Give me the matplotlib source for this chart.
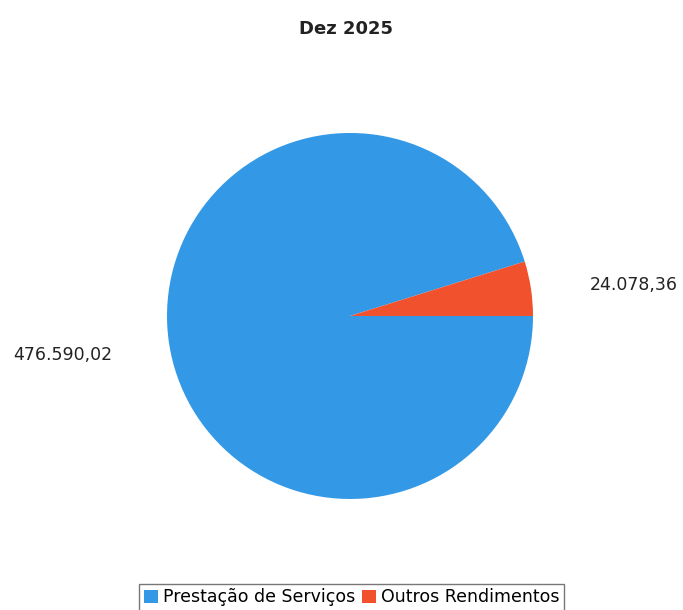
import matplotlib.pyplot as plt

categories = ['Prestação de Serviços', 'Outros Rendimentos']
values = [476590.02, 24078.36]
value_labels = ['476.590,02', '24.078,36']
colors = ['#3399E6', '#F2512E']
title = 'Dez 2025'

fig = plt.figure(figsize=(6.83, 6.10), dpi=100)
ax = fig.add_axes([0.2445, 0.182, 0.5359, 0.6])

wedges, _ = ax.pie(values, colors=colors, startangle=0, counterclock=False,
                   radius=1.0, wedgeprops=dict(linewidth=0))
ax.set_xlim(-1, 1)
ax.set_ylim(-1, 1)
ax.set_aspect('equal')
ax.axis('off')

# label placement, roughly where the original puts them
label_pos = [(-1.568, -0.213), (1.552, 0.169)]
for (x, y), txt in zip(label_pos, value_labels):
    ax.text(x, y, txt, ha='center', va='center', fontsize=12.5, color='#222222')

fig.text(0.506, 0.953, title, ha='center', va='center', fontsize=13,
         fontweight='bold', color='#222222')

leg = fig.legend(wedges, categories, loc='center', bbox_to_anchor=(0.515, 0.021),
                 ncol=2, fontsize=12.5, frameon=True, fancybox=False,
                 handlelength=0.8, handleheight=0.8, handletextpad=0.3,
                 columnspacing=0.4, borderpad=0.25, borderaxespad=0)
leg.get_frame().set_edgecolor('#555555')
leg.get_frame().set_linewidth(1.0)

fig.savefig('out.png', dpi=100)
